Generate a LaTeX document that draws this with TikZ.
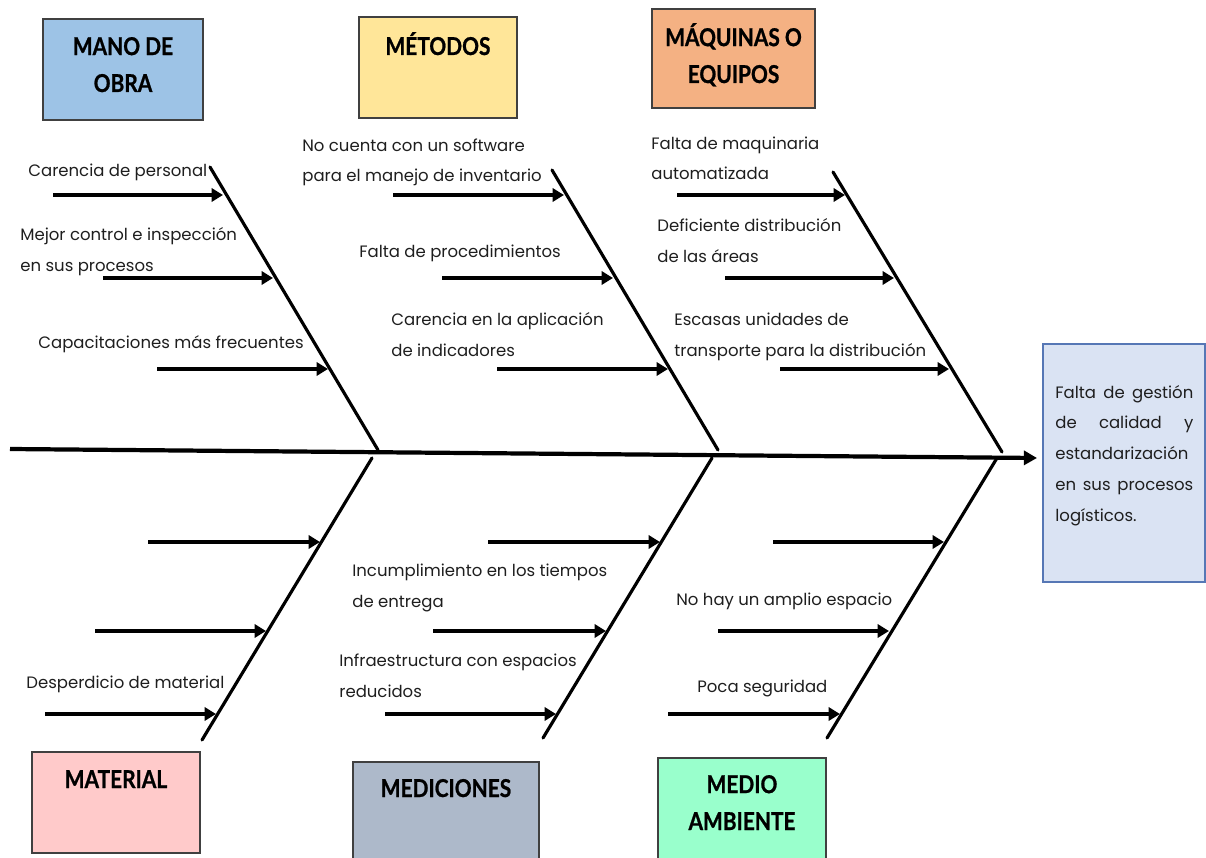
\documentclass[tikz,border=0pt]{standalone}
\usepackage{fontspec}
\setmainfont{Poppins}
\newfontfamily\headfont{Lato}[FakeStretch=0.85, BoldFeatures={FakeBold=0.8}]
\usetikzlibrary{arrows.meta}

\definecolor{manoC}{HTML}{9DC3E6}
\definecolor{metodosC}{HTML}{FFE699}
\definecolor{maquinasC}{HTML}{F4B183}
\definecolor{materialC}{HTML}{FFCACA}
\definecolor{medicionesC}{HTML}{ADB9CA}
\definecolor{medioC}{HTML}{99FFCC}
\definecolor{effectC}{HTML}{DAE3F3}
\definecolor{effectLine}{HTML}{5677B5}
\definecolor{ink}{HTML}{1E1E1E}

\tikzset{
  catbox/.style={draw=black!75, line width=0.8pt, inner sep=0pt},
  % multi-line nodes sit on the baseline of their last line
  cattext/.style={font=\headfont\bfseries\fontsize{14}{21}\selectfont, align=center,
                  anchor=base, inner sep=0pt, text=black},
  cause/.style={font=\fontsize{9.4}{17.3}\selectfont, align=left, anchor=base west,
                inner sep=0pt, text=ink},
  spine/.style={line width=2.4pt, -{Triangle[length=7.5pt,width=8pt]}},
  bone/.style={line width=1.8pt, line cap=round},
  sub/.style={line width=2.4pt, -{Triangle[length=6.5pt,width=7.5pt]}}
}

\begin{document}
\begin{tikzpicture}[x=0.02cm, y=-0.02cm]
\useasboundingbox (0,0) rectangle (1206,858);

% category boxes
\node[catbox, fill=manoC, minimum width=3.2cm, minimum height=2.02cm] (mano) at (123,69.5) {};
\node[catbox, fill=metodosC, minimum width=3.16cm, minimum height=2.02cm] (metodos) at (438,67.5) {};
\node[catbox, fill=maquinasC, minimum width=3.26cm, minimum height=1.98cm] (maquinas) at (733.5,58.5) {};
\node[catbox, fill=materialC, minimum width=3.36cm, minimum height=2.02cm] (material) at (116,802.5) {};
\node[catbox, fill=medicionesC, minimum width=3.72cm, minimum height=2.0cm] (mediciones) at (446,812) {};
\node[catbox, fill=medioC, minimum width=3.36cm, minimum height=2.08cm] (medio) at (742,810) {};

\node[cattext] (manoT) at (123,92) {MANO DE\\OBRA};
\node[cattext] (metodosT) at (438,55) {MÉTODOS};
\node[cattext] (maquinasT) at (733.5,83) {MÁQUINAS O\\EQUIPOS};
\node[cattext] (materialT) at (116,788) {MATERIAL};
\node[cattext] (medicionesT) at (446,797) {MEDICIONES};
\node[cattext] (medioT) at (742,830) {MEDIO\\AMBIENTE};

% effect box
\node[draw=effectLine, line width=0.9pt, fill=effectC, inner sep=0pt,
      minimum width=3.24cm, minimum height=4.76cm] (effect) at (1124,463) {};
\node[font=\fontsize{9.4}{17.6}\selectfont, text=ink, anchor=base west, inner sep=0pt,
      text width=2.76cm, align=justify] (effectT) at (1055,398)
  {Falta de gestión\linebreak de calidad y\linebreak estandarización\linebreak en sus procesos\linebreak logísticos.};

% spine
\coordinate (tail) at (10,449);
\coordinate (head) at (1037,458);
\draw[spine] (tail) -- (head);

% main bones
\coordinate (b1t) at (210,167);  \coordinate (b1b) at (378,450);
\coordinate (b2t) at (552,170);  \coordinate (b2b) at (718,450);
\coordinate (b3t) at (833,172);  \coordinate (b3b) at (1002,452);
\coordinate (b4t) at (372,458);  \coordinate (b4b) at (202,740);
\coordinate (b5t) at (712,458);  \coordinate (b5b) at (543,738);
\coordinate (b6t) at (997,458);  \coordinate (b6b) at (827,738);
\foreach \b in {1,...,6} \draw[bone] (b\b t) -- (b\b b);

% sub-cause arrows
\foreach \n/\xa/\xb/\y in {
  a1/53/223/195, a2/103/273/278, a3/157/328/369,
  a4/393/564/195, a5/442/613/278, a6/497/668/369,
  a7/677/845/195, a8/725/894/278, a9/780/949/369,
  a10/148/320/542, a11/95/266/631, a12/45/216/714,
  a13/488/660/542, a14/433/606/631, a15/385/556/714,
  a16/773/944/542, a17/718/889/631, a18/668/840/714}
{
  \coordinate (\n s) at (\xa,\y);
  \coordinate (\n e) at (\xb,\y);
  \draw[sub] (\n s) -- (\n e);
}

% cause labels
\node[cause] (c1) at (28,177) {Carencia de personal};
\node[cause] (c2) at (20,271) {Mejor control e inspección\\en sus procesos};
\node[cause] (c3) at (38,348) {Capacitaciones más frecuentes};
\node[cause] (c4) at (302,182) {No cuenta con un software\\para el manejo de inventario};
\node[cause] (c5) at (359,257) {Falta de procedimientos};
\node[cause] (c6) at (391,356) {Carencia en la aplicación\\de indicadores};
\node[cause] (c7) at (651,180) {Falta de maquinaria\\automatizada};
\node[cause] (c8) at (657,262) {Deficiente distribución\\de las áreas};
\node[cause] (c9) at (674,356) {Escasas unidades de\\transporte para la distribución};
\node[cause] (c10) at (26,688) {Desperdicio de material};
\node[cause] (c11) at (352,607) {Incumplimiento en los tiempos\\de entrega};
\node[cause] (c12) at (339,697) {Infraestructura con espacios\\reducidos};
\node[cause] (c13) at (676,605) {No hay un amplio espacio};
\node[cause] (c14) at (697,692) {Poca seguridad};
\end{tikzpicture}
\end{document}
